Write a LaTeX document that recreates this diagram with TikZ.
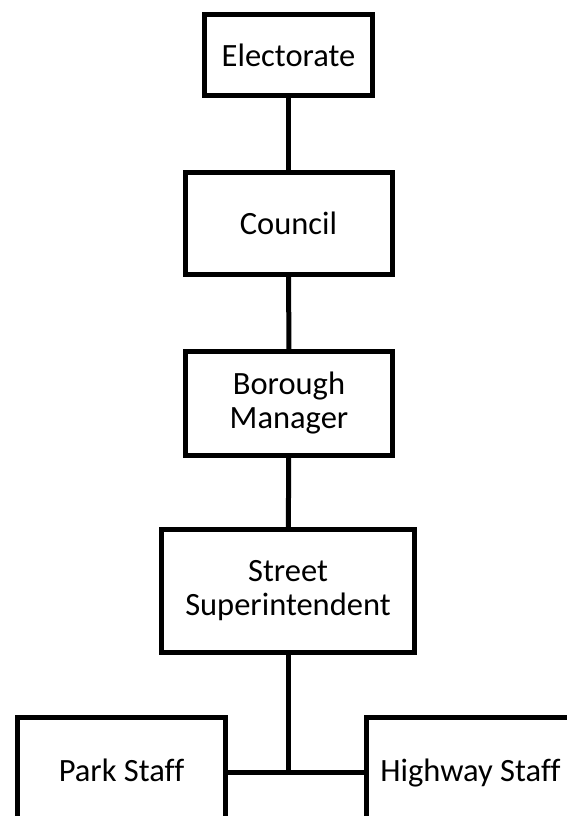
\documentclass[tikz,border=0pt]{standalone}
\usepackage{fontspec}
\setmainfont{Carlito}[Ligatures=NoCommon]
\tikzset{orgbox/.style={draw, line width=5pt, fill=white, align=center, inner sep=0pt,
    font=\fontsize{32.5}{34}\selectfont}}
\begin{document}
\begin{tikzpicture}[x=1pt, y=-1pt]
      \useasboundingbox (0,0) rectangle (567,816);
      \clip (0,0) rectangle (567,816);
      \node[orgbox, minimum width=168pt, minimum height=81pt] (el) at (288.5,55) {Electorate};
      \node[orgbox, minimum width=207pt, minimum height=102pt] (co) at (288.5,223.5) {Council};
      \node[orgbox, minimum width=207pt, minimum height=104pt] (bm) at (289,403.5) {Borough\\Manager};
      \node[orgbox, minimum width=253pt, minimum height=123pt] (ss) at (288,591) {Street\\Superintendent};
      \node[orgbox, minimum width=208pt, minimum height=110pt, text height=25pt, text depth=7pt] (ps) at (121.5,772.5) {Park Staff};
      \node[orgbox, minimum width=208pt, minimum height=110pt, text height=25pt, text depth=7pt] (hs) at (470.5,772.5) {Highway Staff};
      \coordinate (j) at (ss.south |- ps.east);
      \draw [line width=5pt] (el) -- (co);
      \draw [line width=5pt] (co) -- (bm);
      \draw [line width=5pt] (bm) -- (ss);
      \draw [line width=5pt] (ss) -- (j);
      \draw [line width=5pt] (ps) -- (hs);
    \end{tikzpicture}
\end{document}
